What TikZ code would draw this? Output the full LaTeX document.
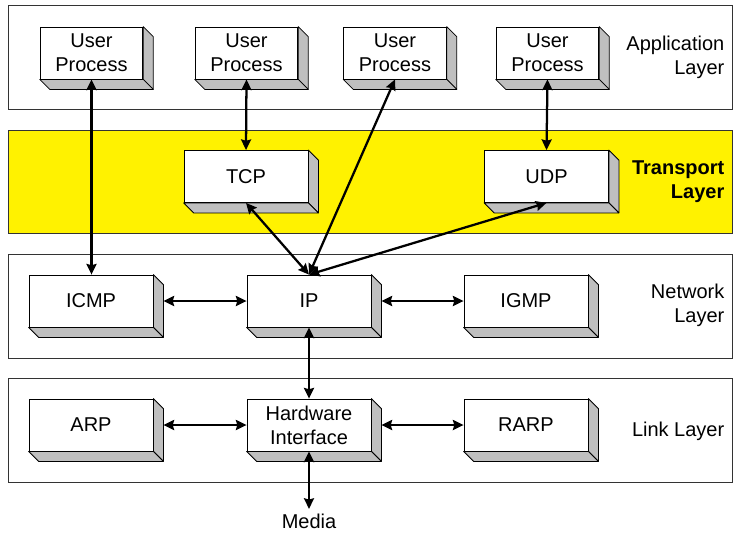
\documentclass[tikz,border=0pt]{standalone}
\usepackage{fontspec}
\setmainfont{Liberation Sans}
\usetikzlibrary{arrows.meta,positioning}
\tikzset{
    %Define standard arrow tip
    >={Stealth[length=8pt,width=7.5pt,inset=1pt]},
    %Define style for 3d boxes
    proc/.style={
           rectangle,
           draw=black, line width=0.6pt,
           fill=white,
           minimum width=93pt,
           minimum height=39pt,
           inner sep=1pt,
           align=center,
           font=\fontsize{15}{18}\selectfont,
           append after command={
             \pgfextra{
               \fill[gray!50, draw=black, line width=0.6pt, line join=round]
                 (\tikzlastnode.north east) -- ++(7.5pt,-7.5pt)
                 -- ([shift={(7.5pt,-7.5pt)}]\tikzlastnode.south east)
                 -- (\tikzlastnode.south east) -- cycle;
               \fill[gray!50, draw=black, line width=0.6pt, line join=round]
                 (\tikzlastnode.south west) -- (\tikzlastnode.south east)
                 -- ([shift={(7.5pt,-7.5pt)}]\tikzlastnode.south east)
                 -- ([shift={(7.5pt,-7.5pt)}]\tikzlastnode.south west) -- cycle;
             }
           }},
    user/.style={
           proc,
           minimum width=77pt},
    % Define style for layer bands
    band/.style={
           draw=black!80, line width=0.6pt},
    lbl/.style={
           anchor=east,
           align=right,
           font=\fontsize{15}{18}\selectfont},
    % Define arrow style
    pil/.style={
           <->,
           line width=1.7pt}
}
\begin{document}
\begin{tikzpicture}[x=0.75pt,y=-0.75pt]
\useasboundingbox[fill=white] (0,0) rectangle (733,536);
 %layers
\draw[band] (8,5) rectangle (732,109);
\draw[band, fill=yellow] (8,130) rectangle (732,233);
\draw[band] (8,254) rectangle (732,358);
\draw[band] (8,378) rectangle (732,482);
\node[lbl] at (729,57) {Application\\Layer};
\node[lbl, font=\fontsize{15}{18}\selectfont\bfseries] at (729,182) {Transport\\Layer};
\node[lbl] at (729,305) {Network\\Layer};
\node[lbl] at (729,431) {Link Layer};
 %nodes
\node[user] (up1) at (91.5,53) {User\\Process};
\node[user] (up2) at (246.5,53) {User\\Process};
\node[user] (up3) at (395,53) {User\\Process};
\node[user] (up4) at (547.5,53) {User\\Process};
\node[proc] (tcp) at (246,176.5) {TCP};
\node[proc] (udp) at (546.5,176.5) {UDP};
\node[proc] (icmp) at (91,301) {ICMP};
\node[proc] (ip) at (309,301) {IP};
\node[proc] (igmp) at (526,301) {IGMP};
\node[proc] (arp) at (91,425) {ARP};
\node[proc] (hw) at (309,425) {Hardware\\Interface};
\node[proc] (rarp) at (526,425) {RARP};
\node[font=\fontsize{15}{18}\selectfont] (media) at (309,521) {Media};
 %arrows
\draw[pil] (up1.south) -- (up1.south |- icmp.north);
\draw[pil] (up2.south) -- (tcp.north);
\draw[pil] (up3.south) -- (ip.north);
\draw[pil] (up4.south) -- (udp.north);
\draw[pil] (tcp.south) -- (ip.north);
\draw[pil] (udp.south) -- (ip.north);
\draw[pil] ([xshift=7.5pt]icmp.east) -- (ip.west);
\draw[pil] ([xshift=7.5pt]ip.east) -- (igmp.west);
\draw[pil] (ip.south) -- (hw.north);
\draw[pil] ([xshift=7.5pt]arp.east) -- (hw.west);
\draw[pil] ([xshift=7.5pt]hw.east) -- (rarp.west);
\draw[pil] (hw.south) -- (media.north);
\end{tikzpicture}
\end{document}
